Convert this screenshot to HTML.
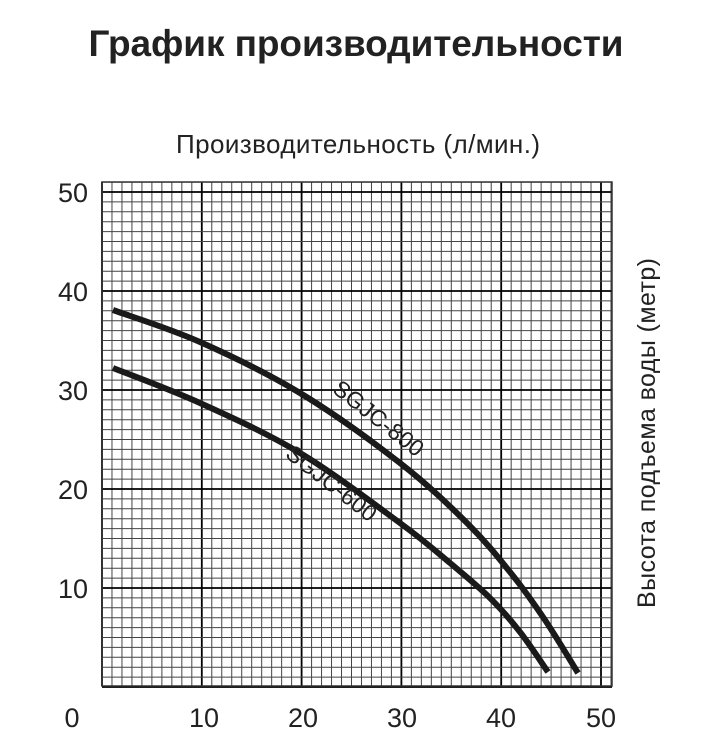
<!DOCTYPE html>
<html><head><meta charset="utf-8"><style>
body{margin:0;background:#fff;}
svg text{font-family:"Liberation Sans",sans-serif;fill:#222;}
</style></head><body>
<svg width="711" height="749" xmlns="http://www.w3.org/2000/svg">
<text x="356" y="56" text-anchor="middle" font-size="37" font-weight="bold" fill="#111" textLength="535">График производительности</text>
<text x="358" y="153" text-anchor="middle" font-size="26" textLength="364">Производительность (л/мин.)</text>
<g id="grid"></g>
<path id="c1" fill="none" stroke="#1a1a1a" stroke-width="6"/>
<path id="c2" fill="none" stroke="#1a1a1a" stroke-width="6"/>
<text x="378" y="426" font-size="23" fill="#111" text-anchor="middle" textLength="108" transform="rotate(38 378 419)">SGJC-800</text>
<text x="331" y="491" font-size="23" fill="#111" text-anchor="middle" textLength="108" transform="rotate(38 331 484)">SGJC-600</text>
<g font-size="27" text-anchor="end">
<text x="88" y="202">50</text><text x="88" y="301">40</text><text x="88" y="400">30</text><text x="88" y="499">20</text><text x="88" y="598">10</text>
</g>
<g font-size="27" text-anchor="middle">
<text x="72" y="727">0</text><text x="204" y="727">10</text><text x="303" y="727">20</text><text x="402" y="727">30</text><text x="501" y="727">40</text><text x="601" y="727">50</text>
</g>
<text x="0" y="0" font-size="25" text-anchor="middle" textLength="350" transform="translate(655,433) rotate(-90)">Высота подъема воды (метр)</text>
</svg>
<script>
var g=document.getElementById('grid'),s='';
var L=102,R=612,T=182,B=686;
for(var i=0;;i++){var x=102+i*9.98;if(x>R+1)break;var maj=i%10==0;s+='<line x1="'+x+'" y1="'+T+'" x2="'+x+'" y2="'+B+'" stroke="'+(maj?'#000':'#444')+'" stroke-width="'+(maj?1.8:1)+'"/>';}
for(var j=-1;;j++){var y=192+j*9.9;if(y>B+1)break;var maj=(j%10==0);s+='<line x1="'+L+'" y1="'+y+'" x2="'+R+'" y2="'+y+'" stroke="'+(maj?'#000':'#444')+'" stroke-width="'+(maj?1.8:1)+'"/>';}
s+='<rect x="'+L+'" y="'+T+'" width="'+(R-L)+'" height="'+(B-T)+'" fill="none" stroke="#333" stroke-width="1.5"/>';
g.innerHTML=s;
function cr(p){var d='M'+p[0][0]+','+p[0][1];for(var i=0;i<p.length-1;i++){var p0=p[Math.max(i-1,0)],p1=p[i],p2=p[i+1],p3=p[Math.min(i+2,p.length-1)];
d+=' C'+(p1[0]+(p2[0]-p0[0])/6)+','+(p1[1]+(p2[1]-p0[1])/6)+' '+(p2[0]-(p3[0]-p1[0])/6)+','+(p2[1]-(p3[1]-p1[1])/6)+' '+p2[0]+','+p2[1];}return d;}
document.getElementById('c1').setAttribute('d',cr([[113,310],[200,342],[300,393],[400,463],[467,523],[510,572],[545,620],[578,673]]));
document.getElementById('c2').setAttribute('d',cr([[113,368],[200,403],[300,453],[400,523],[450,563],[490,598],[520,632],[548,672]]));
</script>
</body></html>
